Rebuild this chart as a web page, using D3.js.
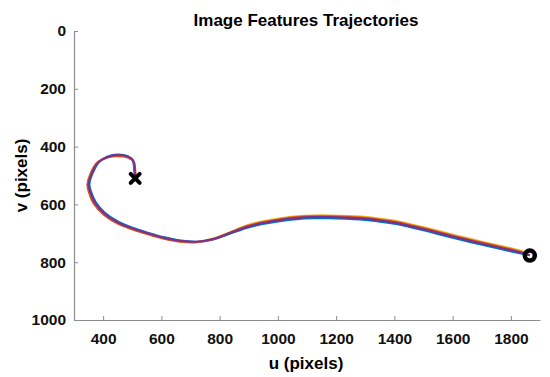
<!DOCTYPE html>
<html>
<head>
<meta charset="utf-8">
<script src="https://cdn.jsdelivr.net/npm/d3@7"></script>
<style>
  body { margin: 0; background: #fff; }
  svg { display: block; font-family: "Liberation Sans", Arial, sans-serif; }
</style>
</head>
<body>
<svg id="chart" width="550" height="377"></svg>
<script>
// tick values
const xTicks = [400, 600, 800, 1000, 1200, 1400, 1600, 1800];
const yTicks = [0, 200, 400, 600, 800, 1000];

// image feature trajectories [u, v]
const featBlue = [[509,509],[507,487],[501,447],[483,432],[450,427],[416,434],[385,455],[361,500],[353,530],[358,554],[375,593],[407,630],[452,660],[501,681],[551,697],[611,714],[665,725],[720,729],[776,722],[835,702],[892,682],[948,668],[1006,658],[1064,651],[1120,648],[1178,648],[1235,650],[1291,653],[1350,660],[1407,668],[1463,681],[1521,695],[1579,710],[1635,724],[1693,738],[1750,751],[1806,764],[1839,771],[1865,776]];
const featYellow = [[511,511],[510,491],[504,451],[485,437],[450,432],[414,438],[380,458],[355,501],[347,531],[352,556],[370,597],[404,634],[449,664],[500,685],[550,701],[610,718],[665,728],[722,730],[779,718],[838,695],[895,672],[951,658],[1009,648],[1067,641],[1123,638],[1181,638],[1238,640],[1294,643],[1353,650],[1410,658],[1466,671],[1524,685],[1582,700],[1638,714],[1696,728],[1753,741],[1809,754],[1841,763],[1865,776]];
const featOrange = [[512,510],[511,490],[505,452],[485,438],[450,433],[413,438],[378,457],[354,500],[346,531],[351,557],[368,598],[402,636],[448,666],[499,686],[549,702],[609,719],[664,729],[722,731],[778,720],[837,697],[894,675],[950,661],[1008,651],[1066,644],[1122,641],[1180,641],[1237,643],[1293,646],[1352,653],[1409,661],[1465,674],[1523,688],[1581,703],[1637,717],[1695,731],[1752,744],[1808,757],[1840,766],[1865,776]];
const featPurple = [[510,510],[509,488],[503,448],[484,434],[450,429],[415,436],[382,456],[358,500],[350,530],[355,555],[372,595],[405,632],[450,662],[500,683],[550,699],[610,716],[664,726],[721,729],[777,720],[836,699],[893,678],[949,664],[1007,654],[1065,647],[1121,644],[1179,644],[1236,646],[1292,649],[1351,656],[1408,664],[1464,677],[1522,691],[1580,706],[1636,720],[1694,734],[1751,747],[1807,760],[1840,768],[1865,776]];
const startPoint = [510, 510];
const endPoint = [1865, 777];

const trajectories = [
  { pts: featBlue, color: "#0072BD" },
  { pts: featYellow, color: "#EDB120" },
  { pts: featOrange, color: "#D95319" },
  { pts: featPurple, color: "#7E2F8E" }
];

const svg = d3.select("#chart");
const axisColor = "#8c8c8c";

const x = d3.scaleLinear().domain([300, 1900]).range([74, 540]);
const y = d3.scaleLinear().domain([0, 1000]).range([31, 320]);

// lines
const line = d3.line()
  .x(d => x(d[0]))
  .y(d => y(d[1]))
  .curve(d3.curveCatmullRom);

svg.append("g")
  .selectAll("path")
  .data(trajectories)
  .join("path")
  .attr("fill", "none")
  .attr("stroke", d => d.color)
  .attr("stroke-width", 2)
  .attr("d", d => line(d.pts));

// start marker (x)
const s = 4.5;
const sx = x(startPoint[0]), sy = y(startPoint[1]);
svg.append("path")
  .attr("d", `M${sx - s},${sy - s}L${sx + s},${sy + s}M${sx - s},${sy + s}L${sx + s},${sy - s}`)
  .attr("stroke", "#000")
  .attr("stroke-width", 4)
  .attr("stroke-linecap", "round");

// end marker (ring)
svg.append("circle")
  .attr("cx", x(endPoint[0]))
  .attr("cy", y(endPoint[1]))
  .attr("r", 5)
  .attr("fill", "none")
  .attr("stroke", "#000")
  .attr("stroke-width", 4.5);

// axes
const xAxis = svg.append("g")
  .attr("transform", `translate(0,${y(1000)})`)
  .call(d3.axisBottom(x).tickValues(xTicks).tickFormat(d3.format("d")).tickSizeInner(-4).tickSizeOuter(0).tickPadding(13));
const yAxis = svg.append("g")
  .attr("transform", `translate(${x(300)},0)`)
  .call(d3.axisLeft(y).tickValues(yTicks).tickFormat(d3.format("d")).tickSizeInner(-4).tickSizeOuter(0).tickPadding(8));

[xAxis, yAxis].forEach(g => {
  g.select(".domain").attr("stroke", axisColor).attr("stroke-width", 1.2);
  g.selectAll(".tick line").attr("stroke", axisColor);
  g.selectAll(".tick text")
    .attr("fill", "#111")
    .attr("font-size", 15.5)
    .attr("font-weight", "bold")
    .attr("font-family", "Liberation Sans, Arial, sans-serif");
});

// title and labels
svg.append("text")
  .attr("x", 306).attr("y", 26)
  .attr("text-anchor", "middle")
  .attr("font-size", 17).attr("font-weight", "bold")
  .text("Image Features Trajectories");

svg.append("text")
  .attr("x", 306).attr("y", 369)
  .attr("text-anchor", "middle")
  .attr("font-size", 17).attr("font-weight", "bold")
  .text("u (pixels)");

svg.append("text")
  .attr("transform", "translate(27,175.5) rotate(-90)")
  .attr("text-anchor", "middle")
  .attr("font-size", 17).attr("font-weight", "bold")
  .text("v (pixels)");
</script>
</body>
</html>
